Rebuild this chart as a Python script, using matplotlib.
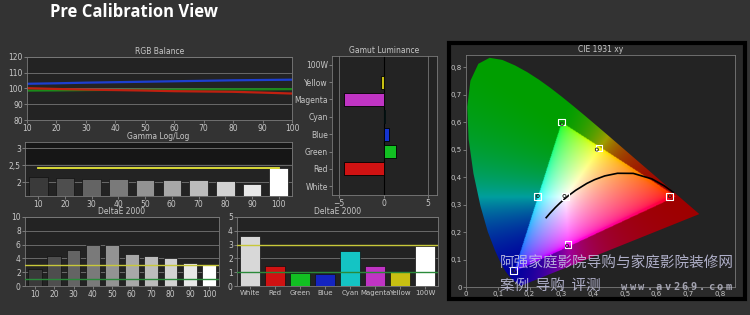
import numpy as np
import matplotlib
matplotlib.use('Agg')
import matplotlib.pyplot as plt
from matplotlib.patches import Polygon, Rectangle
from matplotlib.path import Path

# ---- data ----
levels = [10, 20, 30, 40, 50, 60, 70, 80, 90, 100]
rgb_blue = [103.0, 103.3, 103.7, 104.0, 104.3, 104.6, 104.9, 105.2, 105.4, 105.6]
rgb_green = [98.7, 98.8, 99.0, 99.1, 99.2, 99.3, 99.4, 99.5, 99.5, 99.6]
rgb_red = [100.2, 99.7, 99.3, 99.0, 98.7, 98.3, 98.1, 97.9, 97.4, 96.8]

gamma_vals = [2.15, 2.11, 2.08, 2.08, 2.05, 2.05, 2.05, 2.03, 1.93, 2.40]
gamma_target = 2.4

de_gray = [2.5, 4.4, 5.2, 5.9, 6.0, 4.7, 4.3, 4.1, 3.3, 3.0]

color_names = ['White', 'Red', 'Green', 'Blue', 'Cyan', 'Magenta', 'Yellow', '100W']
de_color = [3.65, 1.45, 0.95, 0.85, 2.55, 1.45, 1.05, 2.9]

lum_names = ['White', 'Red', 'Green', 'Blue', 'Cyan', 'Magenta', 'Yellow', '100W']
lum_vals = [0.0, -4.5, 1.4, 0.6, 0.2, -4.4, -0.3, 0.0]

# CIE 1931 spectral locus (x, y)
locus_x = [0.1741, 0.1733, 0.1714, 0.1689, 0.1644, 0.1566, 0.1440, 0.1355, 0.1241, 0.1096,
           0.0913, 0.0687, 0.0454, 0.0235, 0.0082, 0.0039, 0.0139, 0.0389, 0.0743, 0.1142,
           0.1547, 0.1929, 0.2296, 0.2658, 0.3016, 0.3373, 0.3731, 0.4087, 0.4441, 0.4788,
           0.5125, 0.5448, 0.5752, 0.6029, 0.6270, 0.6658, 0.6915, 0.7079, 0.7190, 0.7300, 0.7347]
locus_y = [0.0050, 0.0048, 0.0051, 0.0069, 0.0109, 0.0177, 0.0297, 0.0399, 0.0578, 0.0868,
           0.1327, 0.2007, 0.2950, 0.4127, 0.5384, 0.6548, 0.7502, 0.8120, 0.8338, 0.8262,
           0.8059, 0.7816, 0.7543, 0.7243, 0.6923, 0.6589, 0.6245, 0.5896, 0.5547, 0.5202,
           0.4866, 0.4544, 0.4242, 0.3965, 0.3725, 0.3340, 0.3083, 0.2920, 0.2809, 0.2700, 0.2653]

# blackbody curve
planck_x = [0.6528, 0.6251, 0.5857, 0.5267, 0.4770, 0.4369, 0.4053, 0.3805,
            0.3451, 0.3221, 0.3064, 0.2952, 0.2807, 0.2637, 0.2565, 0.2525]
planck_y = [0.3444, 0.3674, 0.3931, 0.4133, 0.4137, 0.4041, 0.3907, 0.3768,
            0.3516, 0.3318, 0.3166, 0.3048, 0.2884, 0.2674, 0.2577, 0.2523]

# measured gamut triangle
gamut_x = [0.30, 0.66, 0.15]
gamut_y = [0.60, 0.33, 0.055]

# targets (squares) and measured points (circles)
target_x = [0.30, 0.419, 0.64, 0.225, 0.3127, 0.321, 0.15]
target_y = [0.60, 0.505, 0.33, 0.329, 0.329, 0.154, 0.06]
meas_x = [0.302, 0.412, 0.642, 0.226, 0.310, 0.318, 0.152]
meas_y = [0.592, 0.500, 0.330, 0.331, 0.331, 0.150, 0.058]

W, H = 750, 315
BG = '#333333'
FACE = '#232323'
TXT = '#c8c8c8'


def box(l, t, r, b):
    return [l / W, 1 - b / H, (r - l) / W, (b - t) / H]


def style(ax, title):
    ax.set_facecolor(FACE)
    for s in ax.spines.values():
        s.set_color('#7a7a7a')
        s.set_linewidth(0.6)
    ax.tick_params(colors='#9a9a9a', labelcolor=TXT, labelsize=5.5, length=2, width=0.5, pad=1)
    ax.set_title(title, color=TXT, fontsize=5.5, pad=2)


fig = plt.figure(figsize=(W / 100, H / 100), dpi=100, facecolor=BG)
fig.text(50 / W, 1 - 12 / H, 'Pre Calibration View', color='white', fontsize=12,
         fontweight='bold', family='Open Sans', va='center', ha='left')

# RGB balance
ax = fig.add_axes(box(27, 57, 292, 120))
style(ax, 'RGB Balance')
ax.plot(levels, rgb_blue, color='#1d3fd0', lw=1.6)
ax.plot(levels, rgb_green, color='#1a8a1a', lw=1.6)
ax.plot(levels, rgb_red, color='#c02010', lw=1.6)
ax.set_xlim(10, 100)
ax.set_ylim(80, 120)
ax.set_xticks(levels)
ax.set_yticks([80, 90, 100, 110, 120])
ax.grid(axis='y', color='#6a6a6a', lw=0.7)
ax.set_axisbelow(True)

gray_cols = ['#3a3a3a', '#4e4e4e', '#646464', '#7a7a7a', '#939393', '#a8a8a8',
             '#bcbcbc', '#d2d2d2', '#e8e8e8', '#ffffff']
pos = np.arange(len(levels))

# Gamma
ax = fig.add_axes(box(25, 142, 292, 196))
style(ax, 'Gamma Log/Log')
ax.axhspan(2.55, 3.3, color='#161616', zorder=0)
ax.bar(pos, gamma_vals, width=0.7, color=gray_cols, edgecolor='#111111', lw=0.5, zorder=2)
ax.plot([pos[0], pos[-1]], [gamma_target, gamma_target], color='#e8e83a', lw=1.3, zorder=3)
ax.set_xlim(-0.5, 9.5)
ax.set_ylim(1.59, 3.18)
ax.set_xticks(pos)
ax.set_xticklabels([str(v) for v in levels])
ax.set_yticks([2, 2.5, 3])
ax.set_yticklabels(['2', '2,5', '3'])
ax.grid(axis='y', color='#6a6a6a', lw=0.7)
ax.set_axisbelow(True)

# DeltaE grayscale
ax = fig.add_axes(box(25, 217, 219, 286))
style(ax, 'DeltaE 2000')
ax.bar(pos, de_gray, width=0.72, color=gray_cols, edgecolor='#111111', lw=0.5, zorder=2)
ax.axhline(3, color='#c8c83a', lw=1.0, zorder=3)
ax.axhline(1, color='#2a8a3a', lw=1.0, zorder=3)
ax.set_xlim(-0.5, 9.5)
ax.set_ylim(0, 10)
ax.set_xticks(pos)
ax.set_xticklabels([str(v) for v in levels])
ax.set_yticks([0, 2, 4, 6, 8, 10])
ax.grid(axis='y', color='#6a6a6a', lw=0.7)
ax.set_axisbelow(True)

# DeltaE colors
bar_cols = ['#d8d8d8', '#d01212', '#12c022', '#1424c0', '#14c4c4', '#c034c4', '#c8c012', '#ffffff']
cpos = np.arange(len(color_names))
ax = fig.add_axes(box(237, 217, 438, 286))
style(ax, 'DeltaE 2000')
ax.bar(cpos, de_color, width=0.8, color=bar_cols, edgecolor='#111111', lw=0.5, zorder=2)
ax.axhline(3, color='#c8c83a', lw=1.0, zorder=3)
ax.axhline(1, color='#2a8a3a', lw=1.0, zorder=3)
ax.set_xlim(-0.5, 7.5)
ax.set_ylim(0, 5)
ax.set_xticks(cpos)
ax.set_xticklabels(color_names)
ax.tick_params(axis='x', labelsize=5)
ax.set_yticks([0, 1, 2, 3, 4, 5])
ax.grid(axis='y', color='#6a6a6a', lw=0.7)
ax.set_axisbelow(True)

# Gamut luminance
lum_cols = ['#ffffff', '#d01212', '#12c022', '#1434d0', '#14b4b4', '#c034c4', '#c8c012', '#ffffff']
lpos = np.arange(len(lum_names))
ax = fig.add_axes(box(332, 56, 437, 195))
style(ax, 'Gamut Luminance')
ax.barh(lpos, lum_vals, height=0.75, color=lum_cols, edgecolor='#000000', lw=0.6, zorder=2)
ax.axvline(0, color='#000000', lw=0.8, zorder=1)
ax.set_xlim(-5.8, 6.0)
ax.set_ylim(-0.5, 7.5)
ax.set_yticks(lpos)
ax.set_yticklabels(lum_names)
ax.set_xticks([-5, 0, 5])
ax.grid(axis='x', color='#6a6a6a', lw=0.7)
ax.set_axisbelow(True)

# CIE 1931 xy
frame = Rectangle((449 / W, 1 - 299 / H), 296 / W, 256 / H, transform=fig.transFigure,
                  facecolor='#2a2a2a', edgecolor='black', lw=3, zorder=-1)
fig.patches.append(frame)
ax = fig.add_axes(box(466, 55, 735, 287))
style(ax, 'CIE 1931 xy')

gx, gy = np.meshgrid(np.linspace(0, 0.85, 400), np.linspace(0.001, 0.85, 400))
X = gx / gy
Z = (1 - gx - gy) / gy
M = np.array([[3.2406, -1.5372, -0.4986], [-0.9689, 1.8758, 0.0415], [0.0557, -0.2040, 1.0570]])
rgb = np.stack([M[i, 0] * X + M[i, 1] + M[i, 2] * Z for i in range(3)], axis=-1)
rgb = np.clip(rgb, 0, None)
rgb = rgb / np.maximum(rgb.max(axis=-1, keepdims=True), 1e-9)
tri = Path(list(zip(gamut_x, gamut_y)))
inside = tri.contains_points(np.column_stack([gx.ravel(), gy.ravel()])).reshape(gx.shape)
rgb[inside] = rgb[inside] ** (1 / 2.2)
rgb[~inside] = rgb[~inside] ** 1.3 * 0.62
img = ax.imshow(rgb, extent=(0, 0.85, 0.001, 0.85), origin='lower', interpolation='bilinear',
                aspect='auto', zorder=1)
horse = Polygon(list(zip(locus_x, locus_y)), closed=True, facecolor='none', edgecolor='none',
                transform=ax.transData)
ax.add_patch(horse)
img.set_clip_path(horse)

ax.plot(planck_x, planck_y, color='black', lw=1.2, zorder=3)
ax.scatter(target_x, target_y, marker='s', s=22, facecolor='none', edgecolor='white', lw=0.8, zorder=4)
ax.scatter(meas_x, meas_y, marker='o', s=5, facecolor='none', edgecolor='#202020', lw=0.6, zorder=5)
ax.set_xlim(0, 0.847)
ax.set_ylim(0, 0.844)
ticks = [0, 0.1, 0.2, 0.3, 0.4, 0.5, 0.6, 0.7, 0.8]
tlabels = ['0'] + [('%.1f' % t).replace('.', ',') for t in ticks[1:]]
ax.set_xticks(ticks)
ax.set_xticklabels(tlabels)
ax.set_yticks(ticks)
ax.set_yticklabels(tlabels)
ax.tick_params(labelsize=5)

# watermark
wm = ['Noto Sans CJK SC', 'DejaVu Sans']
fig.text(500 / W, 1 - 264 / H, '阿强家庭影院导购与家庭影院装修网', family=wm, fontsize=10.5,
         color='#c8c8e6', alpha=0.85, va='center', ha='left', zorder=10)
fig.text(500 / W, 1 - 287 / H, '案例  导购  评测', family=wm, fontsize=10.5,
         color='#c8c8e6', alpha=0.85, va='center', ha='left', zorder=10)
site = 'www.av269.com'
for i, ch in enumerate(site):
    fig.text((624 + i * 8.7) / W, 1 - 287 / H, ch, family='DejaVu Sans Mono', fontweight='bold',
             fontsize=7.5, color='#b8b8c8', alpha=0.85, va='center', ha='center', zorder=10)

fig.savefig('out.png', dpi=100, facecolor=BG)
